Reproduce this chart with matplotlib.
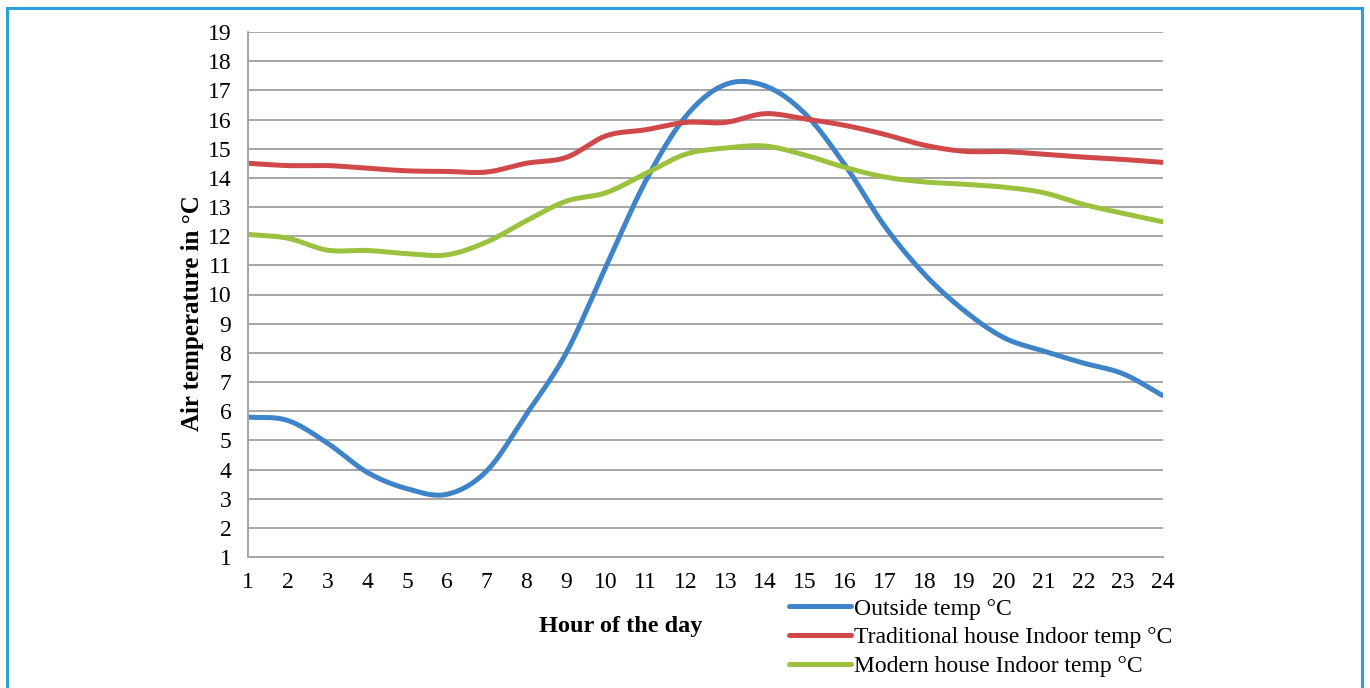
import numpy as np
import matplotlib
matplotlib.use('Agg')
import matplotlib.pyplot as plt
from matplotlib.patches import Rectangle

plt.rcParams['font.family'] = ['Liberation Serif', 'DejaVu Serif']

hours = list(range(1, 25))
outside = [5.8, 5.68, 4.9, 3.9, 3.34, 3.15, 3.95, 5.9, 8.0, 10.96, 13.9, 16.1,
           17.2, 17.15, 16.2, 14.45, 12.35, 10.7, 9.45, 8.52, 8.06, 7.65, 7.28, 6.53]
traditional = [14.5, 14.42, 14.42, 14.33, 14.24, 14.22, 14.2, 14.5, 14.7, 15.44, 15.65, 15.9,
               15.9, 16.2, 16.02, 15.8, 15.49, 15.12, 14.91, 14.9, 14.81, 14.71, 14.63, 14.53]
modern = [12.06, 11.93, 11.52, 11.51, 11.4, 11.36, 11.8, 12.53, 13.2, 13.49, 14.15, 14.81,
          15.02, 15.09, 14.78, 14.36, 14.03, 13.86, 13.78, 13.68, 13.49, 13.09, 12.78, 12.49]
labels = ['Outside temp °C', 'Traditional house Indoor temp °C', 'Modern house Indoor temp °C']
colors = ['#3f84c8', '#d0484a', '#9bc23f']
y_ticks = list(range(1, 20))


def smooth(x, y, n=20):
	# Catmull-Rom style curve through the points, like Excel's smoothed line
	x = np.asarray(x, float)
	y = np.asarray(y, float)
	px = np.concatenate([[2 * x[0] - x[1]], x, [2 * x[-1] - x[-2]]])
	py = np.concatenate([[2 * y[0] - y[1]], y, [2 * y[-1] - y[-2]]])
	xs, ys = [], []
	t = np.linspace(0, 1, n, endpoint=False)
	for i in range(1, len(px) - 2):
		for p, out in ((px, xs), (py, ys)):
			p0, p1, p2, p3 = p[i - 1], p[i], p[i + 1], p[i + 2]
			out.extend(0.5 * (2 * p1 + (-p0 + p2) * t + (2 * p0 - 5 * p1 + 4 * p2 - p3) * t ** 2
			                  + (-p0 + 3 * p1 - 3 * p2 + p3) * t ** 3))
	xs.append(x[-1])
	ys.append(y[-1])
	return np.array(xs), np.array(ys)


fig = plt.figure(figsize=(13.7, 6.88), dpi=100)
ax = fig.add_axes([248 / 1370, 1 - 557 / 688, 915 / 1370, 525 / 688])

for series, label, color in zip([outside, traditional, modern], labels, colors):
	sx, sy = smooth(hours, series)
	ax.plot(sx, sy, color=color, lw=3.6, label=label, solid_capstyle='round')

ax.set_xlim(1, 24)
ax.set_ylim(1, 19)
ax.set_xticks(hours)
ax.set_yticks(y_ticks)
ax.grid(axis='y', color='#a6a6a6', lw=1.4)
ax.set_axisbelow(True)
for side in ['top', 'right']:
	ax.spines[side].set_visible(False)
for side in ['left', 'bottom']:
	ax.spines[side].set_color('#a6a6a6')
	ax.spines[side].set_linewidth(1.4)
ax.tick_params(axis='y', length=0, pad=12, labelsize=17)
ax.tick_params(axis='x', length=0, pad=11, labelsize=17)

ax.set_ylabel('Air temperature in °C', fontsize=18, fontweight='bold')
ax.yaxis.set_label_coords(-0.048, 0.465)
ax.set_xlabel('Hour of the day', fontsize=17.5, fontweight='bold')
ax.xaxis.set_label_coords(0.407, -0.112)

fig.legend(loc='upper left', bbox_to_anchor=(789 / 1370, 1 - 598 / 688), frameon=False,
           fontsize=17, handlelength=2.63, handletextpad=0.12, labelspacing=0.31,
           borderpad=0, borderaxespad=0)

fig.patches.append(Rectangle((7 / 1370, -0.05), 1355 / 1370, 1.05 - 8 / 688,
                             transform=fig.transFigure, fill=False,
                             edgecolor='#2b9fdc', lw=2.2, clip_on=False))

fig.savefig('out.png', dpi=100)
